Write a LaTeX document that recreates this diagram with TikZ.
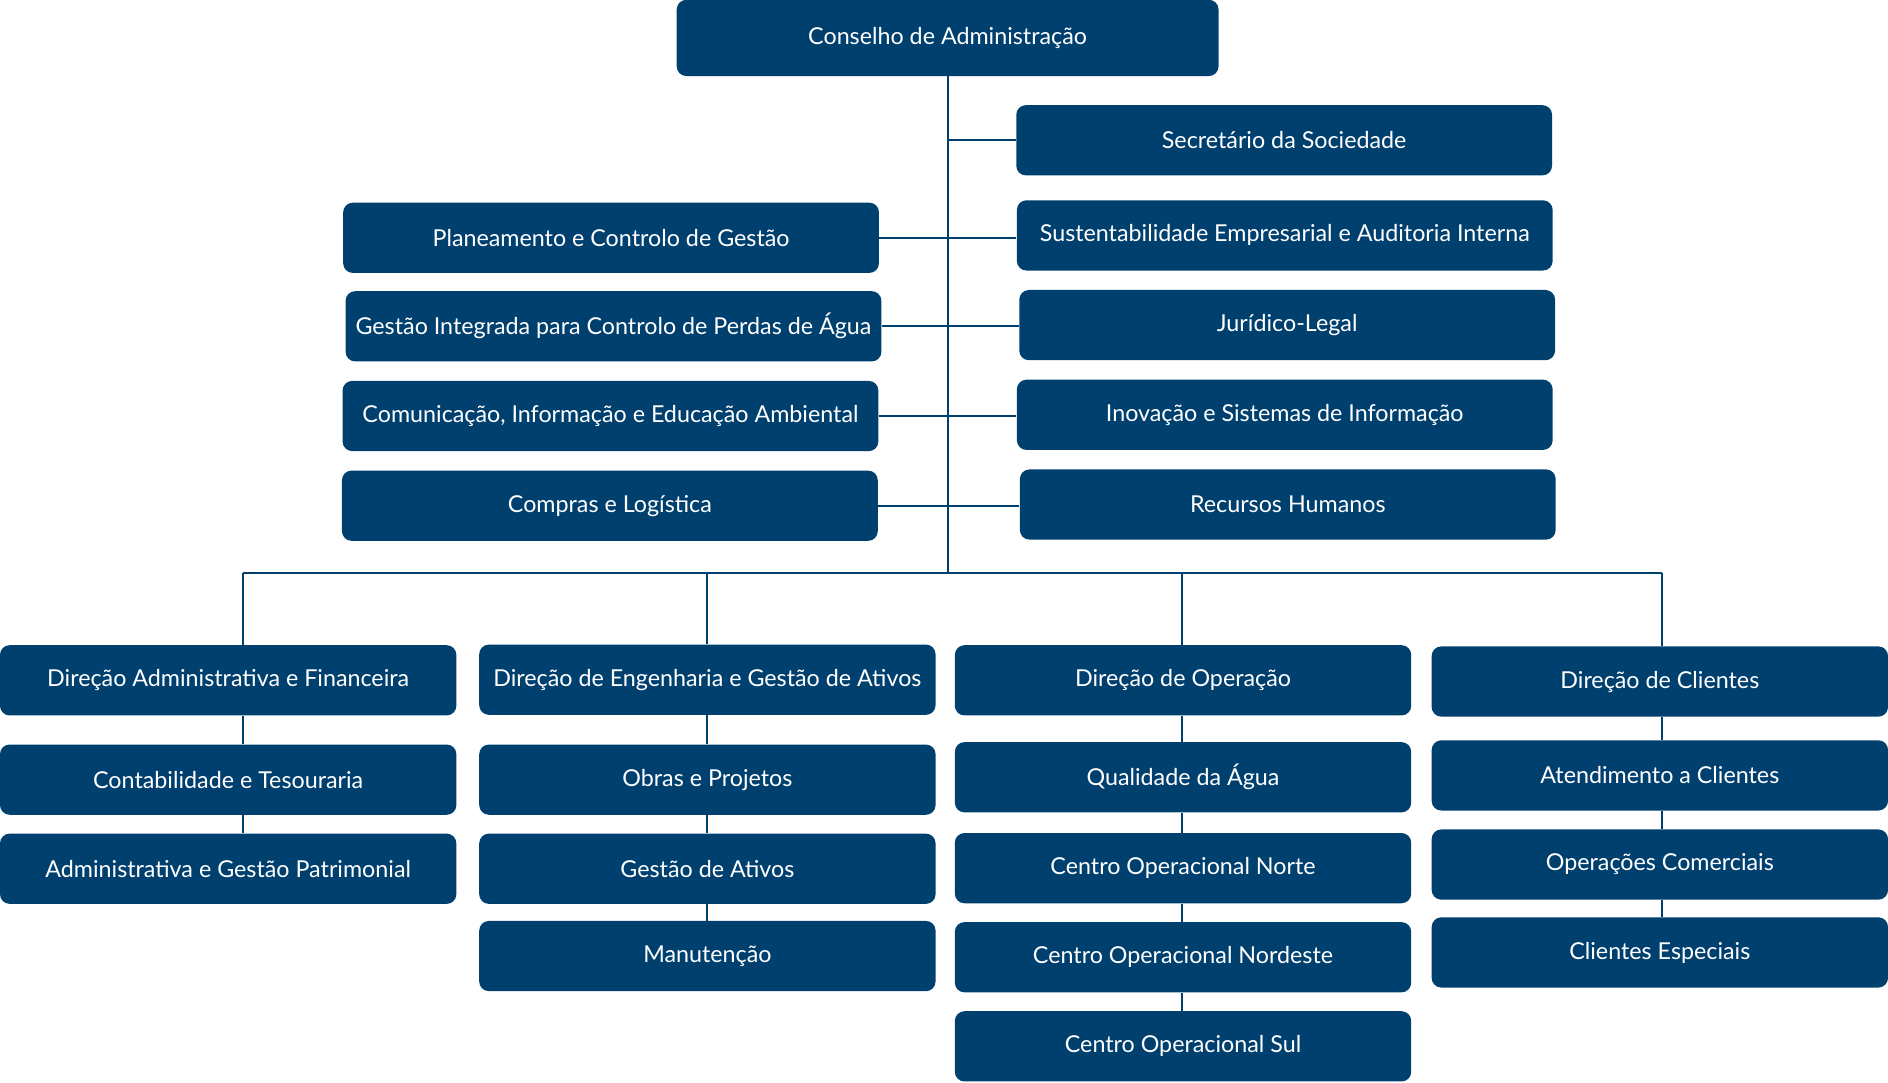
\documentclass[tikz,border=0pt]{standalone}
\usepackage{fontspec}
\setmainfont{Lato}
\usetikzlibrary{positioning, calc}
\definecolor{orgblue}{HTML}{00406F}

\begin{document}
\begin{tikzpicture}[x=0.6pt, y=-0.6pt,
    unit/.style={draw=none, fill=orgblue, rounded corners=4.8pt, text=white,
        minimum height=35pt, inner sep=0pt,
        font=\fontsize{11.6}{13}\selectfont},
    side/.style={unit, minimum width=267pt},
    dir/.style={unit, minimum width=227.4pt},
    link/.style={draw=orgblue, line width=1pt}]
    \useasboundingbox (0,0) rectangle (1568,899);

    \node[unit, minimum width=270pt, minimum height=38pt] (ca) at (787,31.5) {Conselho de Administração};

    % staff units, right
    \node[side] (sec)  at (1066.5,116.5) {Secretário da Sociedade};
    \node[side] (sust) at (1067,195.5)   {Sustentabilidade Empresarial e Auditoria Interna};
    \node[side] (jur)  at (1069,270)     {Jurídico-Legal};
    \node[side] (inov) at (1067,344.5)   {Inovação e Sistemas de Informação};
    \node[side] (rh)   at (1069.5,419)   {Recursos Humanos};
    % staff units, left
    \node[side] (plan) at (507.5,197.5)  {Planeamento e Controlo de Gestão};
    \node[side] (gipa) at (509.5,271)    {Gestão Integrada para Controlo de Perdas de Água};
    \node[side] (ciea) at (507,345.5)    {Comunicação, Informação e Educação Ambiental};
    \node[side] (cl)   at (506.5,420)    {Compras e Logística};

    % bus
    \coordinate (b1) at (202,476);
    \coordinate (b2) at (587,476);
    \coordinate (b3) at (982,476);
    \coordinate (b4) at (1380,476);

    % directions
    \node[dir] (daf) at (189.5,565)  {Direção Administrativa e Financeira};
    \node[dir] (ct)  at (189.5,647.5) {Contabilidade e Tesouraria};
    \node[dir] (agp) at (189.5,721.5) {Administrativa e Gestão Patrimonial};

    \node[dir] (deg) at (587.5,564.5) {Direção de Engenharia e Gestão de Ativos};
    \node[dir] (op)  at (587.5,647.5) {Obras e Projetos};
    \node[dir] (ga)  at (587.5,721.5) {Gestão de Ativos};
    \node[dir] (man) at (587.5,794)   {Manutenção};

    \node[dir] (dop)  at (982.5,565)  {Direção de Operação};
    \node[dir] (qa)   at (982.5,645.5) {Qualidade da Água};
    \node[dir] (con)  at (982.5,721)  {Centro Operacional Norte};
    \node[dir] (cone) at (982.5,795)  {Centro Operacional Nordeste};
    \node[dir] (cos)  at (982.5,869)  {Centro Operacional Sul};

    \node[dir] (dc) at (1378.5,566) {Direção de Clientes};
    \node[dir] (ac) at (1378.5,644) {Atendimento a Clientes};
    \node[dir] (oc) at (1378.5,718) {Operações Comerciais};
    \node[dir] (ce) at (1378.5,791) {Clientes Especiais};

    % connectors
    \draw[link] (ca.south) -- (ca.south |- b1);
    \draw[link] (b1) -- (b4);
    \draw[link] (sec.west -| ca.south) -- (sec.west);
    \draw[link] (plan.east) -- (plan.east -| sust.west);
    \draw[link] (gipa.east) -- (gipa.east -| jur.west);
    \draw[link] (ciea.east) -- (ciea.east -| inov.west);
    \draw[link] (cl.east) -- (cl.east -| rh.west);

    \draw[link] (b1) -- (b1 |- daf.north);
    \draw[link] (b2) -- (b2 |- deg.north);
    \draw[link] (b3) -- (b3 |- dop.north);
    \draw[link] (b4) -- (b4 |- dc.north);

    \foreach \a/\b in {daf/ct, ct/agp}
        \draw[link] (\a.south -| b1) -- (\b.north -| b1);
    \foreach \a/\b in {deg/op, op/ga, ga/man}
        \draw[link] (\a.south -| b2) -- (\b.north -| b2);
    \foreach \a/\b in {dop/qa, qa/con, con/cone, cone/cos}
        \draw[link] (\a.south -| b3) -- (\b.north -| b3);
    \foreach \a/\b in {dc/ac, ac/oc, oc/ce}
        \draw[link] (\a.south -| b4) -- (\b.north -| b4);
\end{tikzpicture}
\end{document}
